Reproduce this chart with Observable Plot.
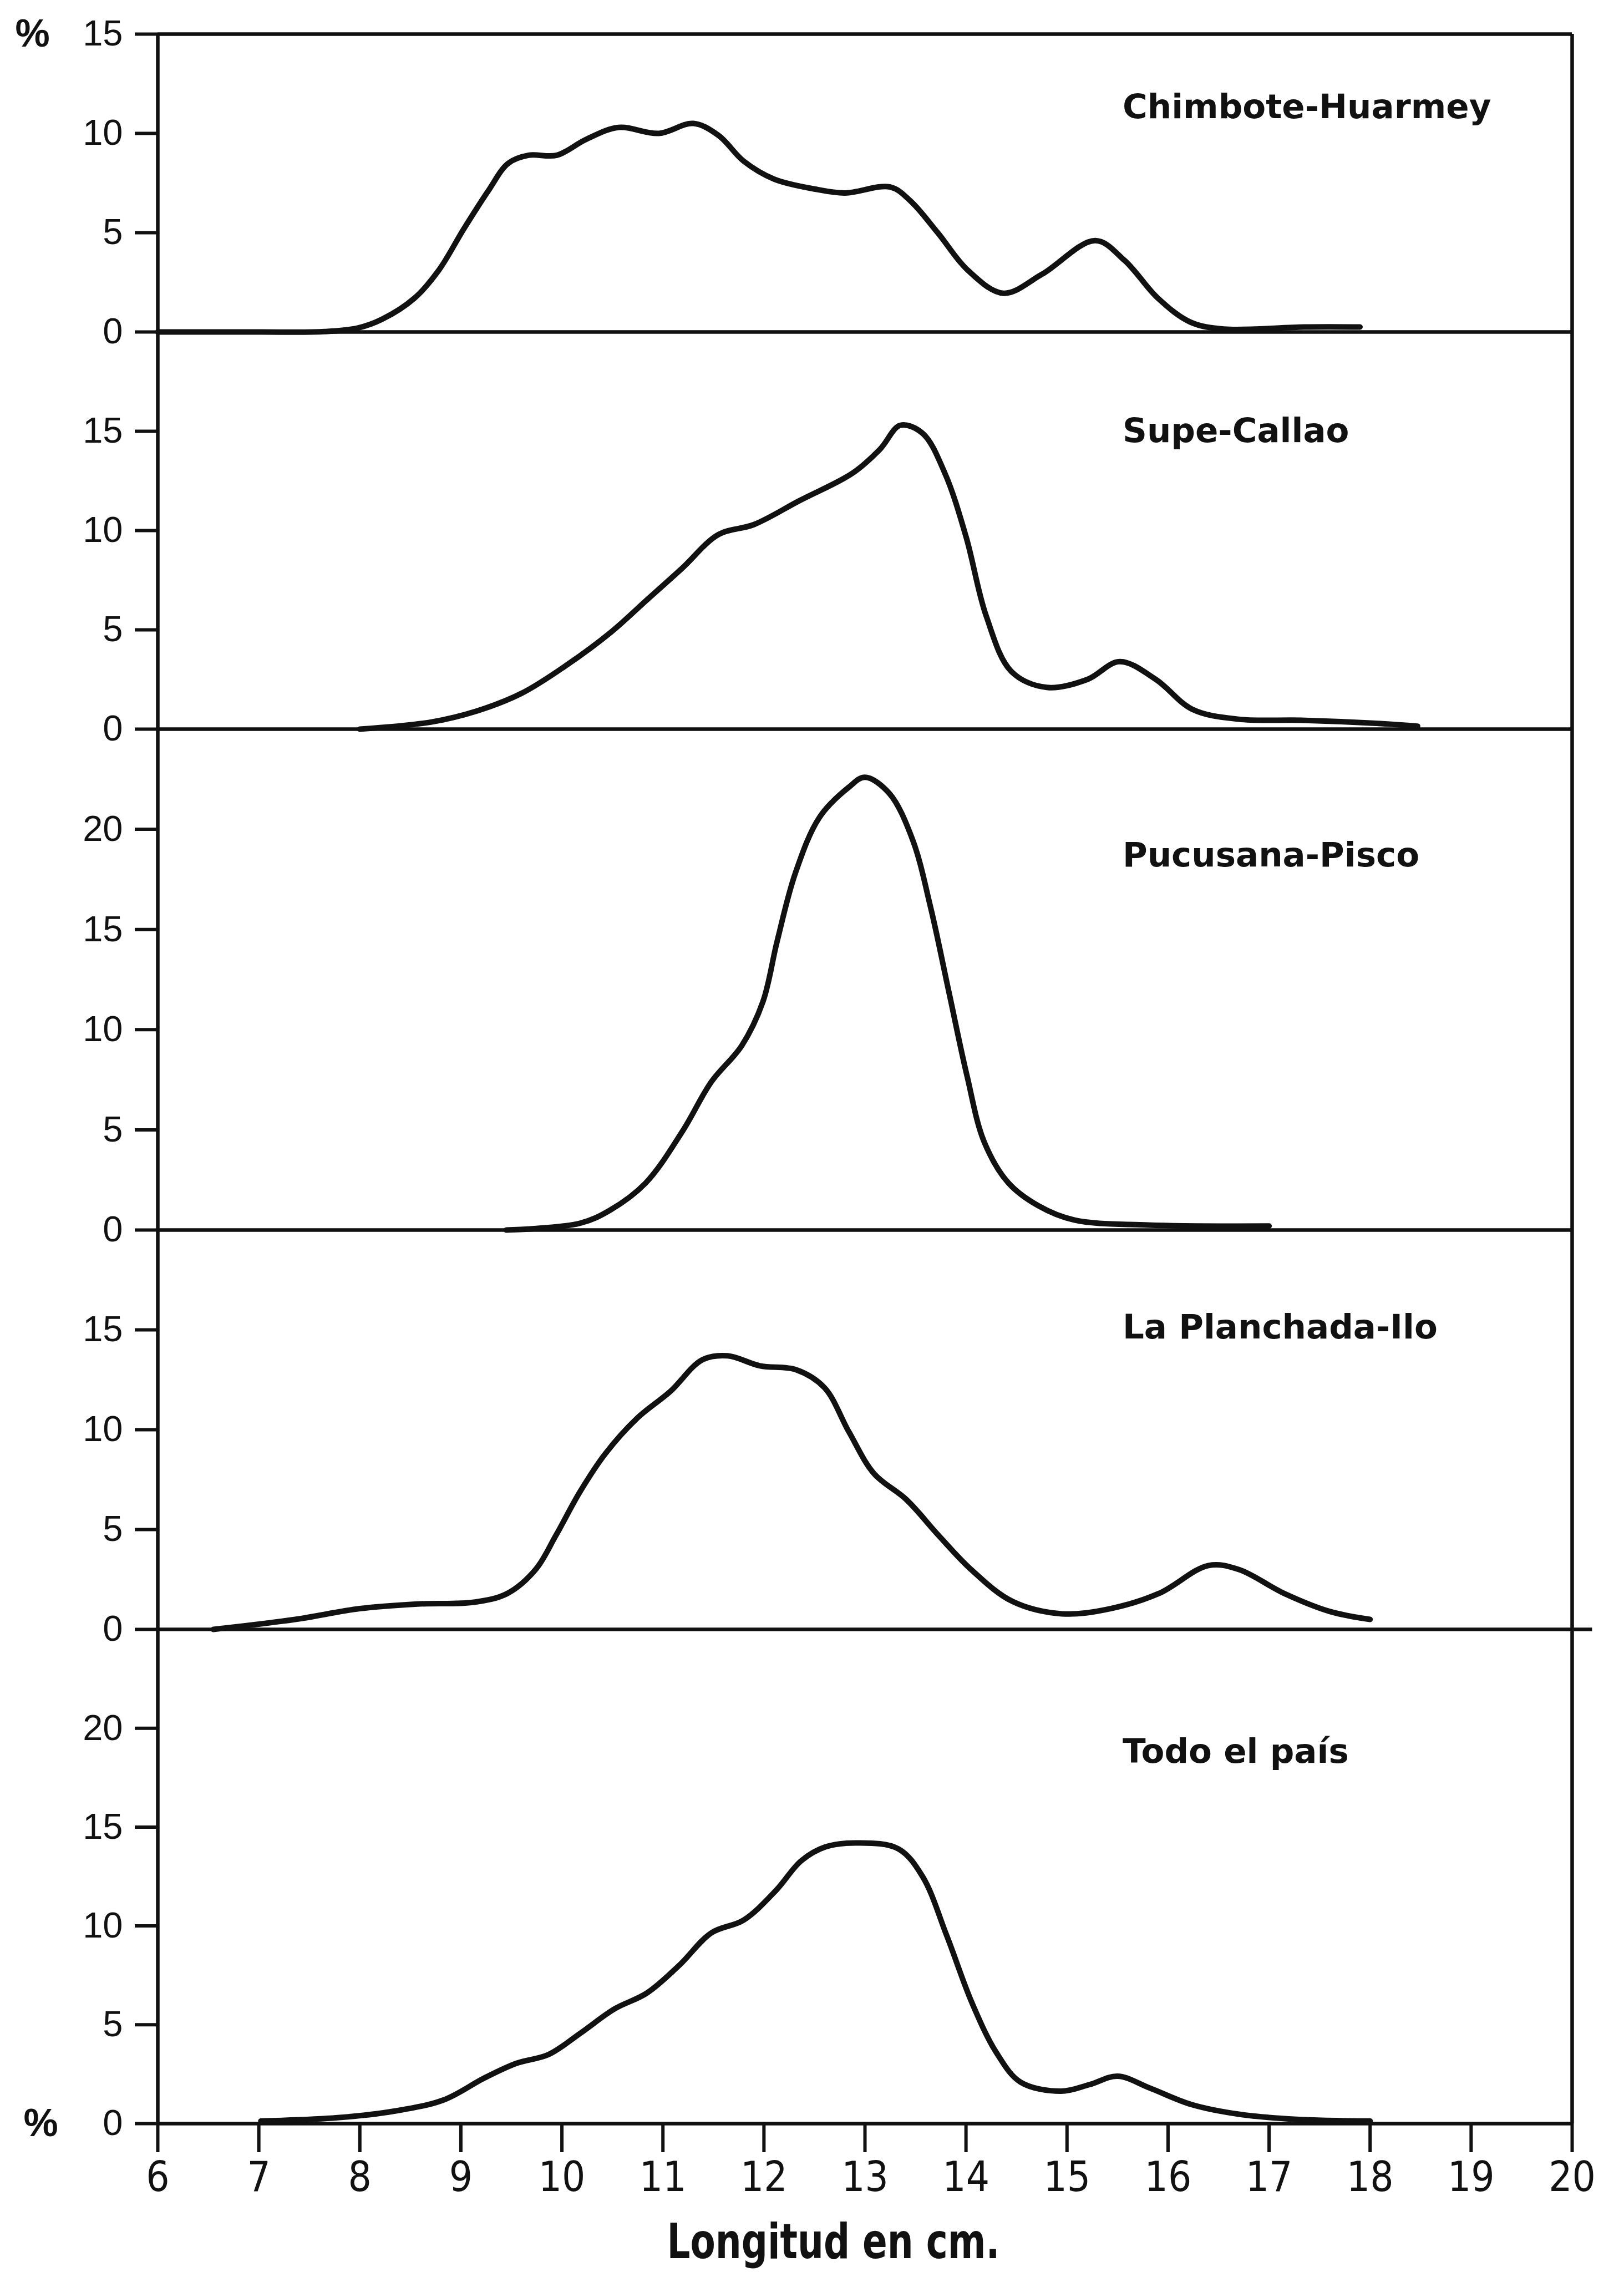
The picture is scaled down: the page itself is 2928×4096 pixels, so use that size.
<!DOCTYPE html>
<html><head><meta charset="utf-8">
<script src="https://cdn.jsdelivr.net/npm/d3@7"></script>
<script src="https://cdn.jsdelivr.net/npm/@observablehq/plot@0.6"></script>
<style>
html,body{margin:0;padding:0;background:#fff;}
#chart{position:relative;width:2928px;height:4096px;overflow:hidden;background:#fff;}
#chart svg{position:absolute;left:0;overflow:visible;}
</style></head><body><div id="chart"></div>
<script>
// ---- data ----
const xTicks = [6,7,8,9,10,11,12,13,14,15,16,17,18,19,20];
const regions = ["Chimbote-Huarmey","Supe-Callao","Pucusana-Pisco","La Planchada-Ilo","Todo el país"];
const yMax = [15,20,25,20,25];
const yTicks = [[0,5,10,15],[0,5,10,15],[0,5,10,15,20],[0,5,10,15],[0,5,10,15,20]];
const xTitle = "Longitud en cm.";

// [longitud (cm), porcentaje]
const chimbote = [[6,0],[7,0],[7.65,0.02],[7.98,0.2],[8.22,0.64],[8.54,1.7],[8.78,3.1],[9.03,5.2],[9.27,7.1],[9.47,8.5],[9.67,8.9],[9.95,8.9],[10.24,9.7],[10.56,10.3],[10.96,10.0],[11.3,10.5],[11.55,9.9],[11.8,8.6],[12.1,7.7],[12.5,7.2],[12.8,7.0],[13.25,7.3],[13.45,6.6],[13.72,5.0],[14.02,3.1],[14.37,1.95],[14.75,2.9],[15.28,4.6],[15.57,3.6],[15.9,1.7],[16.22,0.5],[16.55,0.15],[17.35,0.25],[17.9,0.25]];
const supe = [[8.0,0],[8.71,0.36],[9.15,0.9],[9.6,1.8],[10.04,3.2],[10.49,4.9],[10.84,6.5],[11.19,8.1],[11.55,9.8],[11.9,10.3],[12.35,11.5],[12.88,12.9],[13.15,14.1],[13.35,15.3],[13.57,14.9],[13.79,12.9],[14.0,9.7],[14.2,5.7],[14.45,2.9],[14.8,2.1],[15.2,2.5],[15.52,3.4],[15.88,2.5],[16.24,1.0],[16.7,0.5],[17.32,0.45],[18.03,0.3],[18.47,0.15]];
const pucusana = [[9.45,0],[10.18,0.34],[10.48,1.0],[10.83,2.35],[11.19,4.9],[11.48,7.4],[11.78,9.2],[11.99,11.4],[12.13,14.4],[12.31,17.8],[12.55,20.6],[12.84,22.1],[13.0,22.6],[13.24,21.8],[13.47,19.5],[13.65,16.1],[13.83,11.9],[14.01,7.7],[14.18,4.4],[14.42,2.35],[14.72,1.2],[15.07,0.5],[15.8,0.25],[17.0,0.2]];
const planchada = [[6.55,0],[7.36,0.5],[8.0,1.04],[8.57,1.27],[9.13,1.36],[9.46,1.8],[9.74,3.0],[9.94,4.7],[10.18,6.9],[10.43,8.8],[10.75,10.6],[11.07,11.9],[11.39,13.5],[11.64,13.7],[11.96,13.2],[12.32,13.0],[12.6,12.1],[12.84,9.9],[13.09,7.8],[13.41,6.5],[13.73,4.7],[14.05,3.0],[14.46,1.4],[14.95,0.78],[15.43,1.04],[15.91,1.8],[16.4,3.2],[16.7,3.0],[17.15,1.8],[17.6,0.9],[18.0,0.5]];
const todo = [[7.02,0.13],[7.78,0.3],[8.34,0.63],[8.83,1.2],[9.23,2.3],[9.55,3.05],[9.87,3.5],[10.19,4.6],[10.52,5.8],[10.84,6.6],[11.16,8.0],[11.48,9.65],[11.8,10.3],[12.12,11.8],[12.37,13.3],[12.61,14.0],[12.93,14.2],[13.33,13.9],[13.57,12.5],[13.81,9.5],[14.06,6.1],[14.3,3.6],[14.54,2.1],[14.94,1.64],[15.22,1.97],[15.5,2.4],[15.82,1.8],[16.23,0.97],[16.71,0.47],[17.27,0.22],[18.0,0.13]];
const series = [chimbote, supe, pucusana, planchada, todo];

// ---- layout (pixels) ----
const W = 2928, ML = 284, MR = 94;
const plotTop = [61, 598, 1314, 2217, 2937];
const plotBot = [598, 1314, 2217, 2937, 3828];
const labelX = 15.55;                          // left edge of panel labels (cm)
const labelY = [11.3, 15.0, 18.7, 15.1, 18.8]; // vertical centre of panel labels (%)
const INK = "#111";
const tickFont = "'Liberation Sans', Arial, sans-serif";
const narrowFont = "'Liberation Sans Narrow', 'DejaVu Sans Condensed', 'Liberation Sans', sans-serif";
const labelFont = "'DejaVu Sans', 'Liberation Sans', sans-serif";

const root = document.getElementById("chart");
series.forEach((data, i) => {
  const last = i === series.length - 1;
  const mt = 80, mb = last ? 268 : 80;
  const h = plotBot[i] - plotTop[i];
  const marks = [
    Plot.ruleY([0], i === 3 ? {x1: 6, x2: 20.2, stroke: INK, strokeWidth: 6.5} : {stroke: INK, strokeWidth: 6.5}),
    Plot.ruleX([6], {stroke: INK, strokeWidth: 6.5}),
    Plot.ruleX([20], {stroke: INK, strokeWidth: 6.5}),
    Plot.axisY({ticks: yTicks[i], tickSize: 41, tickPadding: 22, fontSize: 65, fontFamily: tickFont,
      stroke: INK, strokeWidth: 6, fill: INK, label: null, tickFormat: d => String(d)}),
    Plot.line(data, {x: d => d[0], y: d => d[1], curve: "catmull-rom", stroke: INK, strokeWidth: 10,
      strokeLinecap: "round", strokeLinejoin: "round"}),
    Plot.text([regions[i]], {x: labelX, y: labelY[i], textAnchor: "start", fontSize: 61,
      fontWeight: "bold", fontFamily: labelFont, fill: INK})
  ];
  if (i === 0) {
    marks.push(Plot.ruleY([yMax[0]], {x1: 6, x2: 20, stroke: INK, strokeWidth: 6.5}));
    marks.push(Plot.text(["%"], {frameAnchor: "top-left", dx: -226, textAnchor: "middle", lineAnchor: "middle",
      fontSize: 70, fontWeight: "bold", fontFamily: tickFont, fill: INK}));
  }
  if (last) {
    marks.push(Plot.axisX({ticks: xTicks, tickSize: 52, tickPadding: 17, fontSize: 74, fontFamily: narrowFont,
      stroke: INK, strokeWidth: 6, fill: INK, label: null, tickFormat: d => String(d)}));
    marks.push(Plot.text(["%"], {frameAnchor: "bottom-left", dx: -211, textAnchor: "middle", lineAnchor: "middle",
      fontSize: 70, fontWeight: "bold", fontFamily: tickFont, fill: INK}));
    marks.push(Plot.text([xTitle], {frameAnchor: "bottom", dx: -57, dy: 214, lineAnchor: "middle", fontSize: 88,
      fontWeight: "bold", fontFamily: narrowFont, fill: INK, className: "xtitle"}));
  }
  const svg = Plot.plot({
    width: W, height: mt + h + mb,
    marginTop: mt, marginBottom: mb, marginLeft: ML, marginRight: MR,
    x: {domain: [6, 20], axis: null},
    y: {domain: [0, yMax[i]], axis: null},
    style: {background: "transparent", overflow: "visible", color: INK},
    marks
  });
  svg.style.top = (plotTop[i] - mt) + "px";
  root.appendChild(svg);
  // condense the axis title to the width it has in the reference
  svg.querySelectorAll(".xtitle text").forEach(t => {
    t.setAttribute("textLength", 600);
    t.setAttribute("lengthAdjust", "spacingAndGlyphs");
  });
});
</script></body></html>
